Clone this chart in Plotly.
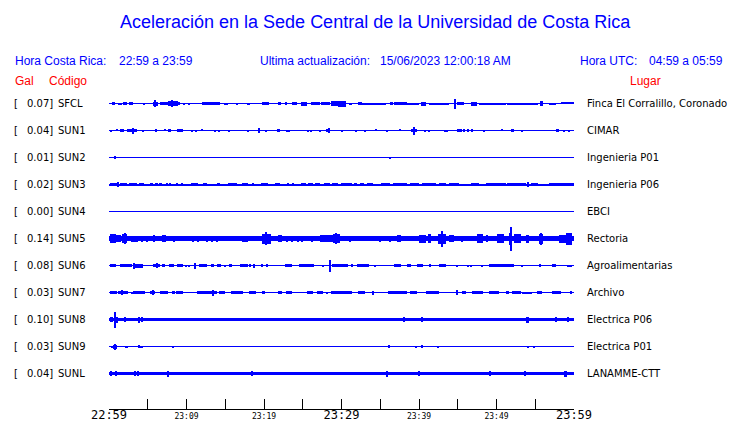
import plotly.graph_objects as go

# ---------------- data ----------------
CODES = ["SFCL", "SUN1", "SUN2", "SUN3", "SUN4", "SUN5", "SUN6", "SUN7", "SUN8", "SUN9", "SUNL"]
PEAK_GAL = [0.07, 0.04, 0.01, 0.02, 0.00, 0.14, 0.08, 0.03, 0.10, 0.03, 0.04]
PLACES = ["Finca El Corralillo, Coronado", "CIMAR", "Ingenieria P01", "Ingenieria P06", "EBCI",
          "Rectoria", "Agroalimentarias", "Archivo", "Electrica P06", "Electrica P01", "LANAMME-CTT"]

# background noise half-amplitude per station (display units)
NOISE = [0.5, 0.5, 0.5, 1.0, 0.5, 2.5, 0.5, 0.5, 1.5, 0.5, 1.5]

# bursts: (start minute after 22:59, end minute, half-amplitude)
SFCL_BURSTS = [(0.35, 0.77, 1.2), (1.16, 1.67, 1.0), (1.8, 2.3, 1.5), (2.6, 3.1, 1.3), (4.5, 4.7, 1.0),
               (5.7, 6.3, 2.0), (5.9, 6.05, 3.5), (6.6, 7.6, 1.5), (7.6, 8.9, 2.5), (8.1, 8.25, 3.5),
               (8.9, 9.1, 1.5), (9.5, 9.8, 1.0), (10.2, 10.4, 1.0), (12.0, 14.3, 1.5), (14.9, 15.3, 1.0),
               (16.4, 16.6, 1.0), (17.8, 18.2, 1.0), (19.7, 20.7, 1.5), (21.8, 22.2, 1.3), (22.7, 23.0, 1.3),
               (23.6, 24.3, 1.2), (24.8, 25.6, 2.0), (26.1, 27.2, 1.3), (27.4, 28.5, 1.3), (28.7, 29.5, 2.5),
               (29.5, 30.6, 3.0), (31.0, 31.4, 1.0), (32.1, 32.6, 1.5), (32.7, 35.8, 1.0), (36.2, 36.6, 1.3),
               (36.8, 38.4, 1.5), (38.5, 40.0, 1.0), (40.3, 40.9, 2.0), (41.3, 43.9, 1.0), (44.6, 44.8, 5.0),
               (44.9, 45.8, 1.5), (46.7, 47.5, 2.0), (47.8, 51.2, 1.0), (51.4, 55.4, 1.0), (55.6, 56.0, 2.5),
               (56.8, 57.7, 1.0), (58.3, 60.0, 0.8)]
SUN1_BURSTS = [(0.1, 0.4, 1.0), (0.9, 1.2, 0.8), (1.4, 1.9, 1.2), (2.3, 3.6, 1.5), (3.05, 3.2, 3.0),
               (4.35, 4.5, 1.0), (5.9, 6.2, 1.2), (7.15, 7.3, 0.8), (7.6, 8.0, 1.2), (8.8, 9.5, 1.3),
               (10.65, 10.8, 1.0), (11.15, 11.3, 1.0), (11.95, 12.1, 0.8), (13.55, 13.7, 1.0), (14.15, 14.3, 1.0),
               (15.45, 15.6, 1.0), (17.85, 18.0, 1.0), (19.25, 19.4, 2.5), (20.25, 20.4, 1.0), (21.8, 22.0, 1.2),
               (22.85, 23.0, 1.0), (23.15, 23.3, 1.0), (25.55, 25.7, 1.0), (25.95, 26.1, 1.0), (27.15, 27.3, 1.0),
               (28.0, 28.3, 1.5), (28.35, 28.5, 2.5), (29.95, 30.1, 1.0), (31.85, 32.0, 1.0), (33.0, 33.2, 1.0),
               (34.45, 34.6, 0.8), (35.75, 35.9, 1.0), (37.45, 37.6, 0.8), (39.0, 39.8, 1.5), (39.25, 39.4, 4.0),
               (40.65, 40.8, 1.0), (41.25, 41.4, 1.0), (43.25, 43.4, 1.0), (43.55, 43.7, 1.0), (44.9, 45.5, 1.3),
               (45.8, 45.95, 1.2), (46.3, 46.45, 1.2), (46.75, 46.9, 1.2), (48.35, 48.5, 1.0), (50.65, 50.8, 0.8),
               (51.9, 52.2, 1.2), (53.25, 53.4, 1.0), (57.7, 58.0, 1.2), (58.65, 58.8, 1.0), (59.35, 59.5, 1.0)]
SUN2_BURSTS = [(0.7, 0.85, 1.5), (36.25, 36.4, 1.0)]
SUN3_BURSTS = [(0.1, 1.2, 1.7), (1.05, 1.2, 2.5), (1.4, 2.3, 1.5), (2.6, 3.6, 1.5), (3.9, 4.5, 1.5),
               (5.3, 5.7, 1.3), (5.9, 6.3, 1.3), (6.5, 6.9, 1.3), (7.4, 7.55, 1.3), (7.8, 7.95, 1.3),
               (8.6, 8.9, 1.5), (9.4, 9.6, 1.3), (10.6, 11.5, 1.5), (12.1, 12.6, 1.5), (13.9, 14.3, 1.5),
               (15.3, 16.5, 1.5), (17.1, 17.9, 1.5), (18.5, 18.7, 1.3), (19.6, 20.5, 1.5), (21.4, 22.0, 1.5),
               (23.0, 23.2, 1.3), (23.7, 23.9, 1.3), (24.8, 25.4, 1.4), (25.7, 26.3, 1.4), (26.6, 27.2, 1.4),
               (27.7, 28.5, 1.5), (28.8, 29.6, 1.4), (29.9, 30.6, 1.4), (30.6, 31.3, 1.3), (31.6, 32.0, 1.2),
               (32.4, 32.9, 1.2), (33.3, 34.0, 1.2), (35.1, 36.2, 1.5), (36.6, 38.4, 1.5), (38.8, 40.0, 1.4),
               (40.4, 42.2, 1.4), (42.6, 43.5, 1.3), (43.9, 45.2, 1.3), (46.7, 47.8, 1.3), (48.7, 51.2, 1.5),
               (51.4, 53.8, 1.8), (54.0, 54.15, 2.5), (54.4, 55.4, 1.3), (56.8, 60.0, 1.5)]
SUN4_BURSTS = []
SUN5_BURSTS = [(0.1, 0.9, 4.3), (0.9, 1.5, 3.5), (1.7, 2.3, 4.5), (2.0, 2.15, 5.5), (2.9, 3.7, 3.0),
               (4.2, 4.35, 3.0), (4.9, 5.05, 3.0), (5.65, 5.95, 3.5), (6.8, 7.4, 3.5), (8.35, 8.5, 3.0),
               (10.8, 10.95, 3.0), (11.45, 11.6, 3.0), (12.6, 12.75, 3.0), (13.25, 13.4, 3.0), (13.9, 14.05, 3.0),
               (17.2, 17.9, 3.0), (19.8, 20.9, 5.0), (20.2, 20.35, 6.5), (21.8, 22.3, 3.5), (22.9, 23.05, 3.0),
               (23.6, 23.75, 3.0), (24.3, 24.45, 3.0), (24.9, 25.05, 3.0), (26.1, 26.25, 3.0), (27.2, 28.9, 3.5),
               (28.9, 29.8, 4.5), (29.2, 29.35, 5.5), (31.0, 31.15, 3.0), (34.9, 35.05, 3.0), (36.2, 36.35, 3.0),
               (37.2, 37.7, 3.5), (40.0, 40.9, 4.0), (41.1, 41.6, 4.5), (42.4, 43.5, 5.0), (42.9, 43.05, 8.0),
               (43.9, 44.5, 3.5), (45.5, 45.65, 3.0), (47.5, 48.2, 4.5), (48.65, 48.8, 3.5), (50.1, 51.0, 4.5),
               (51.6, 52.0, 6.0), (51.85, 52.0, 12.0), (52.3, 53.2, 4.5), (53.8, 54.2, 4.0), (55.5, 56.0, 5.0),
               (55.7, 55.85, 6.0), (58.0, 59.0, 4.0), (59.0, 59.8, 6.0)]
SUN6_BURSTS = [(0.1, 0.9, 1.2), (1.4, 3.0, 1.5), (3.1, 4.4, 2.0), (3.2, 3.35, 3.0), (5.7, 6.6, 1.5),
               (6.1, 6.25, 2.5), (6.8, 7.2, 1.2), (7.8, 8.4, 1.3), (8.8, 9.5, 1.3), (9.9, 10.05, 1.0),
               (10.3, 10.45, 1.0), (11.0, 11.15, 3.0), (11.6, 12.6, 1.5), (13.1, 13.6, 1.3), (13.9, 14.5, 1.3),
               (14.9, 15.05, 1.0), (15.45, 15.85, 1.3), (16.9, 17.9, 1.5), (18.1, 18.25, 1.3), (18.65, 18.8, 2.0),
               (19.7, 19.85, 1.3), (20.3, 20.45, 1.3), (22.7, 23.6, 1.3), (24.5, 25.1, 1.2), (25.2, 26.5, 1.5),
               (27.55, 27.7, 1.0), (28.4, 28.55, 6.0), (28.8, 30.6, 1.5), (30.6, 30.8, 1.3), (31.3, 31.45, 1.5),
               (32.0, 33.6, 1.3), (34.25, 34.4, 1.0), (36.8, 37.7, 1.3), (38.4, 39.0, 1.5), (39.7, 40.5, 1.3),
               (41.3, 41.45, 1.5), (42.6, 43.5, 1.3), (44.8, 44.95, 1.0), (46.2, 46.35, 1.0), (46.7, 46.85, 1.0),
               (48.1, 48.25, 1.0), (49.0, 52.3, 1.3), (53.2, 53.35, 1.0), (55.5, 55.8, 1.5), (57.2, 57.7, 1.2),
               (59.1, 59.7, 1.0)]
SUN7_BURSTS = [(0.1, 1.0, 1.5), (1.2, 2.5, 1.8), (1.6, 1.75, 2.5), (2.95, 3.1, 1.0), (3.1, 4.6, 1.3),
               (5.3, 5.9, 1.8), (5.55, 5.7, 2.5), (6.6, 7.6, 1.5), (8.1, 8.5, 1.2), (8.6, 9.5, 1.3),
               (11.3, 13.9, 1.8), (13.35, 13.5, 3.0), (14.2, 15.0, 1.3), (15.8, 17.3, 1.5), (18.1, 19.0, 1.3),
               (19.7, 20.1, 1.2), (21.8, 22.3, 1.2), (22.9, 23.6, 1.5), (25.5, 26.3, 1.5), (26.9, 27.6, 1.3),
               (28.05, 28.2, 1.0), (28.7, 31.0, 1.5), (31.0, 31.4, 1.2), (32.1, 33.0, 1.2), (34.0, 34.15, 2.0),
               (36.0, 38.4, 1.5), (38.8, 39.7, 1.5), (40.9, 42.6, 1.5), (44.9, 45.05, 2.5), (45.5, 46.1, 1.2),
               (46.9, 48.2, 1.5), (49.0, 50.3, 1.3), (51.2, 51.6, 1.3), (52.0, 53.2, 1.3), (53.3, 54.6, 1.0),
               (55.2, 55.9, 1.8), (57.2, 58.3, 1.5), (59.6, 59.75, 1.3)]
SUN8_BURSTS = [(0.1, 0.5, 2.5), (0.75, 0.9, 8.0), (1.0, 1.2, 3.0), (2.05, 2.2, 2.5), (3.85, 4.0, 3.0),
               (4.25, 4.4, 2.5), (38.05, 38.2, 2.5), (40.35, 40.5, 2.5), (53.9, 54.15, 3.0), (57.65, 57.8, 2.5),
               (59.15, 59.3, 2.5)]
SUN9_BURSTS = [(0.3, 0.45, 1.0), (0.5, 1.0, 2.0), (0.75, 0.9, 3.0), (2.05, 2.4, 1.0), (3.75, 3.9, 1.5),
               (4.0, 4.15, 1.0), (4.25, 4.4, 1.0), (8.25, 8.4, 1.0), (36.1, 36.3, 1.5), (39.5, 39.65, 1.0),
               (40.35, 40.5, 1.3), (42.45, 42.6, 1.0), (54.05, 54.2, 1.0), (54.75, 54.9, 1.0)]
SUNL_BURSTS = [(0.25, 0.4, 2.5), (0.85, 1.0, 2.5), (3.35, 3.5, 2.5), (3.65, 3.8, 2.5), (7.45, 7.8, 3.0),
               (18.45, 18.6, 2.5), (35.85, 36.0, 3.0), (39.95, 40.1, 2.5), (49.15, 49.3, 2.5), (53.55, 53.7, 2.5),
               (58.65, 59.1, 3.0)]
BURSTS = [SFCL_BURSTS, SUN1_BURSTS, SUN2_BURSTS, SUN3_BURSTS, SUN4_BURSTS, SUN5_BURSTS,
          SUN6_BURSTS, SUN7_BURSTS, SUN8_BURSTS, SUN9_BURSTS, SUNL_BURSTS]

TICK_MINUTES = list(range(0, 61, 5))
MAJOR_LABELS = {0: "22:59", 30: "23:29", 60: "23:59"}
MINOR_MINUTES = [10, 20, 40, 50]
MINOR_LABELS = ["23:09", "23:19", "23:39", "23:49"]

TITLE = "Aceleración en la Sede Central de la Universidad de Costa Rica"

# ---------------- layout geometry ----------------
OFF = 8                     # page body margin
W, H = 740 - OFF, 423 - OFF
PLOT_X0, PLOT_X1 = 109, 574   # page pixels
PLOT_Y0, PLOT_Y1 = 90, 409
L, R = PLOT_X0 - OFF, W - (PLOT_X1 - OFF)
T, B = PLOT_Y0 - OFF, H - (PLOT_Y1 - OFF)
PW, PH = W - L - R, H - T - B
ROW0, ROW_STEP = 103.5, 27.0
AMP_SCALE = 1.0 / ROW_STEP     # display amplitude units -> row units
BLUE = "#0000FF"
RED = "#FF0000"


def px(x):
    return (x - PLOT_X0) / PW


def py(y):
    return (PLOT_Y1 - y) / PH


fig = go.Figure()

for i, bursts in enumerate(BURSTS):
    xs, ws, bases, hs = [30.0], [60.0], [i - NOISE[i] * AMP_SCALE], [2 * NOISE[i] * AMP_SCALE]
    for s, e, a in bursts:
        xs.append((s + e) / 2)
        ws.append(e - s)
        bases.append(i - a * AMP_SCALE)
        hs.append(2 * a * AMP_SCALE)
    fig.add_trace(go.Bar(x=xs, y=hs, base=bases, width=ws, marker=dict(color=BLUE, line=dict(width=0)),
                         hoverinfo="skip", showlegend=False))

# dummy trace for secondary tick-label axis
fig.add_trace(go.Scatter(x=[0], y=[0], xaxis="x2", mode="markers", marker=dict(opacity=0),
                         hoverinfo="skip", showlegend=False))

y_top = (PLOT_Y0 - ROW0) / ROW_STEP
y_bot = (PLOT_Y1 - ROW0) / ROW_STEP
fig.update_layout(
    width=W, height=H, margin=dict(l=L, r=R, t=T, b=B, autoexpand=False),
    paper_bgcolor="white", plot_bgcolor="white", barmode="overlay", bargap=0,
    showlegend=False,
    xaxis=dict(range=[0, 60], showgrid=False, zeroline=False, showline=True, linecolor="black", linewidth=1,
               ticks="inside", ticklen=10, tickwidth=1, tickcolor="black", tickmode="array",
               tickvals=TICK_MINUTES, ticktext=[MAJOR_LABELS.get(m, "") for m in TICK_MINUTES],
               tickfont=dict(family="DejaVu Sans Mono", size=12, color="black"), fixedrange=True,
               ticklabelstandoff=-5),
    xaxis2=dict(range=[0, 60], overlaying="x", anchor="y", side="bottom", showgrid=False, zeroline=False,
                showline=False, ticks="", tickmode="array", tickvals=MINOR_MINUTES, ticktext=MINOR_LABELS,
                tickfont=dict(family="DejaVu Sans Mono", size=8, color="black"), fixedrange=True,
                ticklabelstandoff=1),
    yaxis=dict(range=[y_bot, y_top], visible=False, fixedrange=True),
)

ann = []
ann.append(dict(text=TITLE, x=px(375), y=py(22), xref="paper", yref="paper", xanchor="center", yanchor="middle",
                showarrow=False, font=dict(family="Liberation Sans", size=18, color=BLUE)))
header = [("Hora Costa Rica:", 13), ("22:59 a 23:59", 117), ("Ultima actualización:", 257.5),
          ("15/06/2023 12:00:18 AM", 378), ("Hora UTC:", 577.5), ("04:59 a 05:59", 647)]
for txt, x in header:
    ann.append(dict(text=txt, x=px(x), y=py(61), xref="paper", yref="paper", xanchor="left", yanchor="middle",
                    showarrow=False, font=dict(family="Liberation Sans", size=12, color=BLUE)))
for txt, x in [("Gal", 13), ("Código", 47), ("Lugar", 628)]:
    ann.append(dict(text=txt, x=px(x), y=py(81), xref="paper", yref="paper", xanchor="left", yanchor="middle",
                    showarrow=False, font=dict(family="Liberation Sans", size=12, color=RED)))
lab_font = dict(family="DejaVu Sans", size=10, color="black")
for i, code in enumerate(CODES):
    ann.append(dict(text="[", x=px(12), y=i, xref="paper", yref="y", xanchor="left", yanchor="middle",
                    showarrow=False, font=lab_font))
    ann.append(dict(text=f"{PEAK_GAL[i]:.2f}]", x=px(25), y=i, xref="paper", yref="y", xanchor="left",
                    yanchor="middle", showarrow=False, font=lab_font))
    ann.append(dict(text=code, x=px(55.5), y=i, xref="paper", yref="y", xanchor="left", yanchor="middle",
                    showarrow=False, font=lab_font))
    ann.append(dict(text=PLACES[i], x=px(585), y=i, xref="paper", yref="y", xanchor="left", yanchor="middle",
                    showarrow=False, font=lab_font))
fig.update_layout(annotations=ann)

fig.write_html("out.html", config={"displayModeBar": False})
